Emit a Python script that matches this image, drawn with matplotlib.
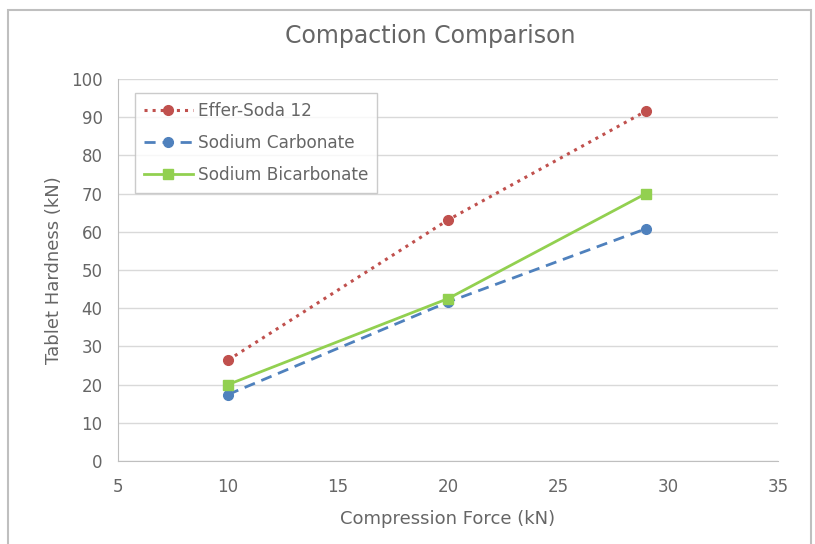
import matplotlib
matplotlib.use('Agg')
import matplotlib.pyplot as plt
from matplotlib.patches import Rectangle

plt.rcParams['font.family'] = ['DejaVu Sans']

force = [10, 20, 29]
effer_soda = [26.4, 63.1, 91.6]
sodium_carb = [17.4, 41.6, 60.8]
sodium_bicarb = [20.0, 42.5, 70.0]

x_ticks = [5, 10, 15, 20, 25, 30, 35]
y_ticks = [0, 10, 20, 30, 40, 50, 60, 70, 80, 90, 100]

text_col = '#666666'
grid_col = '#D9D9D9'

fig = plt.figure(figsize=(8.15, 5.44), dpi=100)
ax = fig.add_axes([0.1448, 0.1526, 0.8098, 0.7022])

ax.plot(force, effer_soda, color='#C0504D', linestyle=':', linewidth=2.2,
        marker='o', markersize=7, label='Effer-Soda 12')
ax.plot(force, sodium_carb, color='#4F81BD', linestyle=(0, (4, 2.5)), linewidth=2,
        marker='o', markersize=7, label='Sodium Carbonate')
ax.plot(force, sodium_bicarb, color='#92D050', linestyle='-', linewidth=2,
        marker='s', markersize=7, label='Sodium Bicarbonate')

ax.set_xlim(5, 35)
ax.set_ylim(0, 100)
ax.set_xticks(x_ticks)
ax.set_yticks(y_ticks)
ax.tick_params(axis='x', length=0, labelsize=12, colors=text_col, pad=12)
ax.tick_params(axis='y', length=0, labelsize=12, colors=text_col, pad=11)
ax.grid(axis='y', color=grid_col, linewidth=1)
ax.set_axisbelow(True)
for s in ['top', 'right']:
    ax.spines[s].set_visible(False)
for s in ['left', 'bottom']:
    ax.spines[s].set_color('#BFBFBF')

ax.set_xlabel('Compression Force (kN)', fontsize=13, color=text_col, labelpad=10)
ax.set_ylabel('Tablet Hardness (kN)', fontsize=13, color=text_col, labelpad=6)
fig.text(0.528, 0.934, 'Compaction Comparison', ha='center', va='center',
         fontsize=17, color=text_col)

leg = ax.legend(loc='upper left', bbox_to_anchor=(0.026, 0.963), fontsize=12.2,
                frameon=True, fancybox=False, handlelength=2.9, labelspacing=0.85,
                borderpad=0.5, handletextpad=0.3, borderaxespad=0)
leg.get_frame().set_edgecolor('#BFBFBF')
leg.get_frame().set_linewidth(1)
for t in leg.get_texts():
    t.set_color(text_col)

fig.patches.append(Rectangle((0.0098, -0.02), 0.9853, 1.0016, transform=fig.transFigure,
                             fill=False, edgecolor='#BFBFBF', linewidth=1.5))

fig.savefig('out.png', dpi=100)
